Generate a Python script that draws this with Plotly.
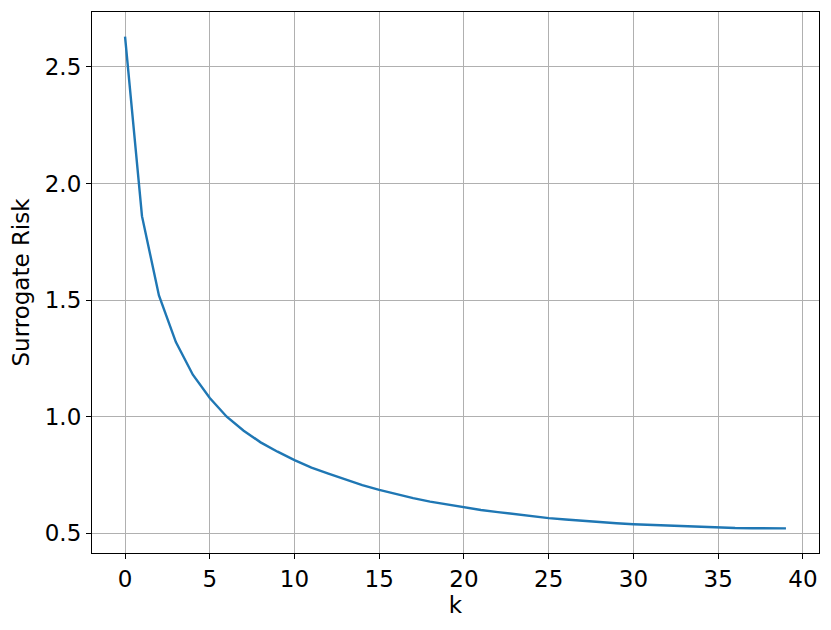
import numpy as np
import plotly.graph_objects as go

# surrogate risk per iteration k
k = list(range(40))
risk = [2.63, 1.86, 1.52, 1.32, 1.18, 1.08, 1.00, 0.94, 0.89, 0.85,
        0.814, 0.782, 0.756, 0.731, 0.707, 0.686, 0.667, 0.651, 0.636, 0.623,
        0.611, 0.600, 0.591, 0.582, 0.573, 0.565, 0.559, 0.553, 0.548, 0.543,
        0.539, 0.536, 0.533, 0.530, 0.527, 0.525, 0.523, 0.522, 0.521, 0.521]

x_ticks = [0, 5, 10, 15, 20, 25, 30, 35, 40]
y_ticks = [0.5, 1.0, 1.5, 2.0, 2.5]

# matplotlib-style 5% padding around the data
x_pad = (max(k) - min(k)) * 0.05
y_pad = (max(risk) - min(risk)) * 0.05

fig = go.Figure(go.Scatter(
    x=k,
    y=risk,
    mode='lines',
    line=dict(color='#1f77b4', width=2.4),
    showlegend=False
))

axis_style = dict(
    showline=True,
    linecolor='black',
    linewidth=1.2,
    mirror=True,
    ticks='outside',
    ticklen=5,
    tickwidth=1.2,
    tickcolor='black',
    showgrid=True,
    gridcolor='#b0b0b0',
    gridwidth=1.2,
    zeroline=False,
    automargin=False,
    tickfont=dict(size=23, color='black'),
)

fig.update_xaxes(
    range=[min(k) - x_pad, max(k) + x_pad],
    tickvals=x_ticks,
    title=dict(text='k', font=dict(size=23, color='black'), standoff=6),
    **axis_style
)
fig.update_yaxes(
    range=[min(risk) - y_pad, max(risk) + y_pad],
    tickvals=y_ticks,
    ticktext=['%.1f' % v for v in y_ticks],
    title=dict(text='Surrogate Risk', font=dict(size=23, color='black'), standoff=8),
    **axis_style
)

fig.update_layout(
    width=831,
    height=630,
    margin=dict(l=92, r=12, t=12, b=77),
    paper_bgcolor='white',
    plot_bgcolor='white',
    font=dict(family='DejaVu Sans', color='black'),
)

# drop the default page margin so the figure sits at the window corner
fig.write_html("out.html", config={'displayModeBar': False},
               post_script="document.body.style.margin='0';")
